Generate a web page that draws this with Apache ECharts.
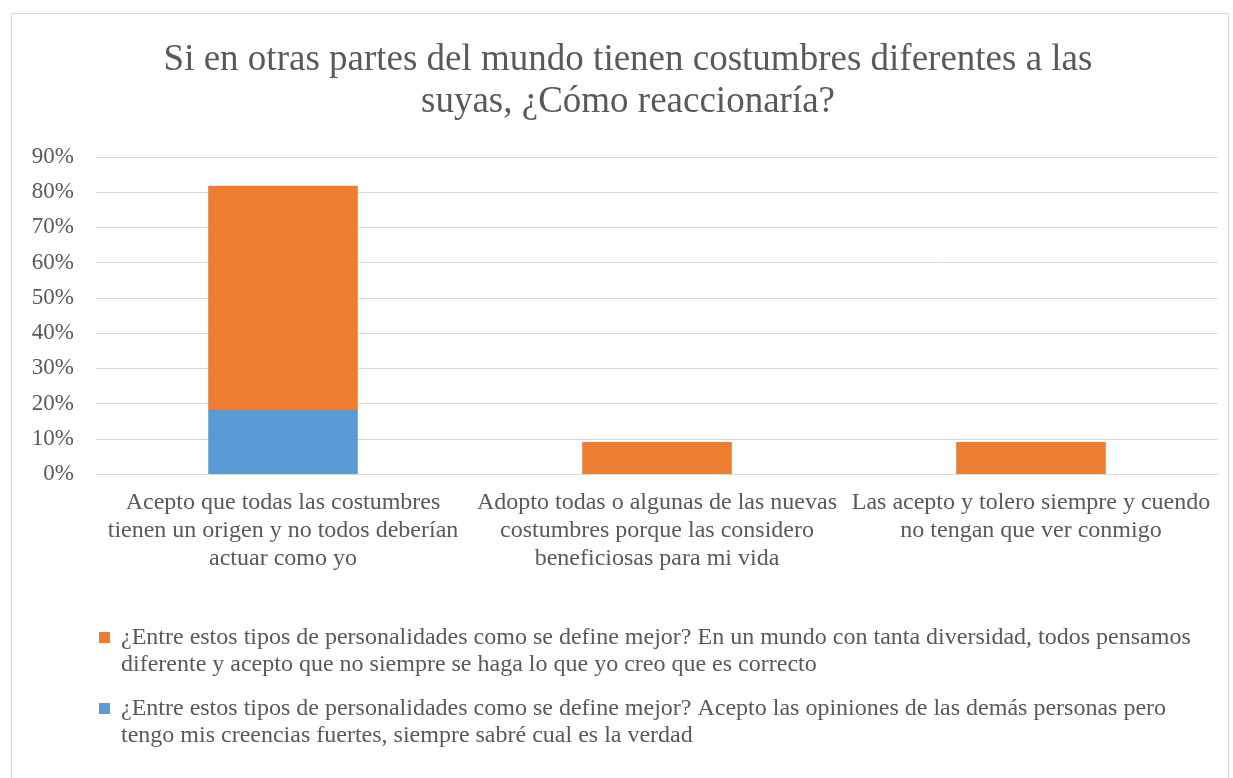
<!DOCTYPE html>
<html>
<head>
<meta charset="utf-8">
<script src="https://cdn.jsdelivr.net/npm/echarts@6/dist/echarts.min.js"></script>
<style>html,body{margin:0;padding:0;background:#fff;}#chart{width:1233px;height:778px;}</style>
</head>
<body>
<div id="chart"></div>
<script>
var titleText = 'Si en otras partes del mundo tienen costumbres diferentes a las\nsuyas, ¿Cómo reaccionaría?';
var categories = [
  'Acepto que todas las costumbres\ntienen un origen y no todos deberían\nactuar como yo',
  'Adopto todas o algunas de las nuevas\ncostumbres porque las considero\nbeneficiosas para mi vida',
  'Las acepto y tolero siempre y cuendo\nno tengan que ver conmigo'
];
var seriesBlueName = '¿Entre estos tipos de personalidades como se define mejor? Acepto las opiniones de las demás personas pero\ntengo mis creencias fuertes, siempre sabré cual es la verdad';
var seriesOrangeName = '¿Entre estos tipos de personalidades como se define mejor? En un mundo con tanta diversidad, todos pensamos\ndiferente y acepto que no siempre se haga lo que yo creo que es correcto';
var blueValues = [0.1818, null, null];
var orangeValues = [0.6364, 0.0909, 0.0909];
var yTicks = [0, 0.1, 0.2, 0.3, 0.4, 0.5, 0.6, 0.7, 0.8, 0.9];

var FONT = '"Liberation Serif", "Times New Roman", serif';
var TXT = '#595959';
var chart = echarts.init(document.getElementById('chart'));
function legendCfg(name, top) {
  return {
    data: [name], left: 94, top: top, orient: 'vertical',
    icon: 'rect', itemWidth: 11, itemHeight: 11, itemGap: 0,
    formatter: function (n) { return '\n ' + n.split('\n').join('\n '); },
    textStyle: {fontFamily: FONT, fontSize: 24, color: TXT, lineHeight: 27}
  };
}
chart.setOption({
  animation: false,
  backgroundColor: '#fff',
  graphic: [{
    type: 'rect', shape: {x: 11.5, y: 13.5, width: 1217, height: 800},
    style: {fill: 'none', stroke: '#D9D9D9', lineWidth: 1}, silent: true
  }],
  title: {
    text: titleText, left: 628, top: 39, padding: 0, textAlign: 'center',
    textStyle: {fontFamily: FONT, fontSize: 37, fontWeight: 'normal', color: TXT, lineHeight: 42}
  },
  legend: [legendCfg(seriesOrangeName, 592), legendCfg(seriesBlueName, 663)],
  grid: {left: 96, right: 15, top: 157, bottom: 304, containLabel: false},
  xAxis: {
    type: 'category', data: categories,
    axisLine: {show: true, lineStyle: {color: '#D9D9D9'}},
    axisTick: {show: false},
    axisLabel: {fontFamily: FONT, fontSize: 24, color: TXT, lineHeight: 28, margin: 15, interval: 0}
  },
  yAxis: {
    type: 'value', min: 0, max: 0.9, interval: 0.1,
    axisLine: {show: false}, axisTick: {show: false},
    splitLine: {lineStyle: {color: '#D9D9D9', width: 1}},
    axisLabel: {fontFamily: FONT, fontSize: 23, color: TXT, margin: 22,
      formatter: function (v) { return Math.round(v * 100) + '%'; }}
  },
  series: [{
    name: seriesBlueName, type: 'bar', stack: 'a', data: blueValues,
    barWidth: '40%', itemStyle: {color: '#5B9BD5'}
  }, {
    name: seriesOrangeName, type: 'bar', stack: 'a', data: orangeValues,
    barWidth: '40%', itemStyle: {color: '#ED7D31'}
  }]
});
</script>
</body>
</html>
